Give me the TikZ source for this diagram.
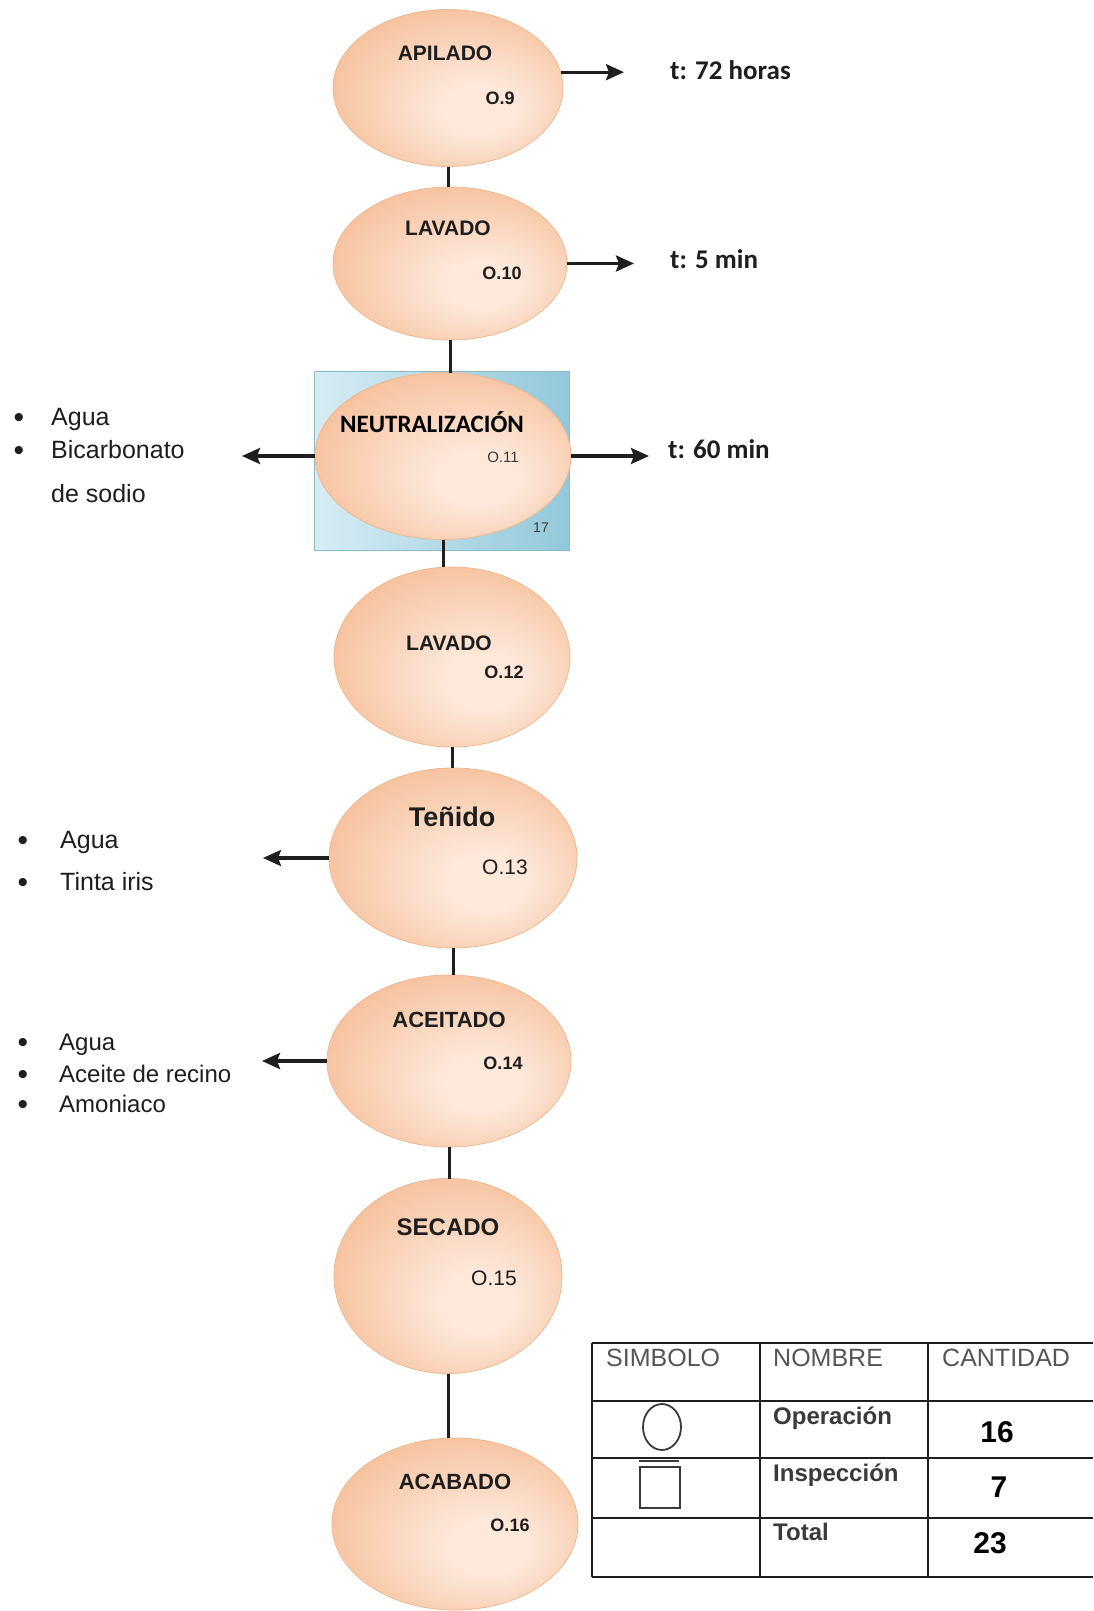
\documentclass[tikz,border=0pt]{standalone}
\usepackage{fontspec}
\setmainfont{Liberation Sans}
\newfontfamily\calib{Carlito}
\usetikzlibrary{arrows.meta,shapes.geometric}
\definecolor{peachin}{HTML}{FDE8DA}
\definecolor{peachout}{HTML}{F6C29E}
\definecolor{peachline}{HTML}{F0B890}
\definecolor{blueL}{HTML}{D6EDF5}
\definecolor{blueR}{HTML}{92C8DA}
\definecolor{blueline}{HTML}{8CB9CA}
\definecolor{ink}{HTML}{1E1E1E}
\definecolor{hdr}{HTML}{555555}
\definecolor{rowtxt}{HTML}{3A3A3A}
\pgfdeclareradialshading{peach}{\pgfpoint{8bp}{-8bp}}{color(0bp)=(peachin); color(8bp)=(peachin); color(30bp)=(peachout); color(50bp)=(peachout)}
\begin{document}
\begin{tikzpicture}[x=1pt,y=-1pt,
  op/.style={ellipse, shade, shading=peach, draw=peachline, line width=0.8pt, inner sep=0pt, outer sep=0pt},
  nbox/.style={rectangle, left color=blueL, right color=blueR, draw=blueline, line width=0.8pt, inner sep=0pt, outer sep=0pt},
  link/.style={draw=ink, line width=3pt},
  arr/.style={draw=ink, line width=3.2pt, -{Stealth[length=18pt,width=16pt,inset=3pt]}},
  title/.style={font=\bfseries\fontsize{21}{25}\selectfont, text=ink, inner sep=0pt},
  num/.style={font=\bfseries\fontsize{18}{22}\selectfont, text=ink, inner sep=0pt},
  numr/.style={font=\fontsize{21}{24}\selectfont, text=ink, inner sep=0pt},
  tlabel/.style={font=\calib\bfseries\fontsize{27}{32}\selectfont, text=ink, inner sep=0pt},
  item/.style={font=\fontsize{25}{30}\selectfont, text=ink, inner sep=0pt},
  itemsm/.style={font=\fontsize{24}{28}\selectfont, text=ink, inner sep=0pt},
  bul/.style={font=\fontsize{30}{30}\selectfont, text=ink, inner sep=0pt},
  tbl/.style={draw=ink, line width=2.4pt},
  hdrtxt/.style={font=\fontsize{25}{28}\selectfont, text=hdr, inner sep=0pt},
  rowlbl/.style={font=\bfseries\fontsize{24}{28}\selectfont, text=rowtxt, inner sep=0pt},
  cnt/.style={font=\bfseries\fontsize{30}{34}\selectfont, text=black, inner sep=0pt}
]
\useasboundingbox (0,0) rectangle (1093,1611);
\fill[white] (0,0) rectangle (1093,1611);

% blue box behind neutralizacion
\node[nbox, minimum width=255pt, minimum height=179pt] (nbx) at (441.5,460.5) {};
\node[font=\fontsize{14}{16}\selectfont, text=rowtxt, inner sep=0pt] (n17) at (541,528) {17};

% operation ellipses
\node[op, minimum width=230pt, minimum height=157pt] (apilado) at (448,88) {};
\node[op, minimum width=234pt, minimum height=153pt] (lavado1) at (450,263.5) {};
\node[op, minimum width=256pt, minimum height=167pt] (neutral) at (443,456) {};
\node[op, minimum width=236pt, minimum height=180pt] (lavado2) at (452,657) {};
\node[op, minimum width=248pt, minimum height=180pt] (tenido) at (453,858) {};
\node[op, minimum width=244pt, minimum height=172pt] (aceitado) at (449,1061) {};
\node[op, minimum width=228pt, minimum height=195pt] (secado) at (448,1276) {};
\node[op, minimum width=246pt, minimum height=172pt] (acabado) at (455,1524) {};

% labels inside ellipses
\node[title] (lapilado) at (445,53) {APILADO};
\node[num] (napilado) at (500,98) {O.9};
\node[title] (llavado1) at (448,228) {LAVADO};
\node[num] (nlavado1) at (502,273) {O.10};
\node[font=\calib\bfseries\fontsize{25}{30}\selectfont, text=black, inner sep=0pt] (lneutral) at (432,422) {NEUTRALIZACIÓN};
\node[num, font=\fontsize{15}{17}\selectfont, text=rowtxt] (nneutral) at (503,457) {O.11};
\node[title] (llavado2) at (449,643) {LAVADO};
\node[num] (nlavado2) at (504,672) {O.12};
\node[title, font=\bfseries\fontsize{27}{31}\selectfont] (ltenido) at (452,817) {Teñido};
\node[numr] (ntenido) at (505,867) {O.13};
\node[title, font=\bfseries\fontsize{22}{26}\selectfont] (laceitado) at (449,1020) {ACEITADO};
\node[num] (naceitado) at (503,1063) {O.14};
\node[title, font=\bfseries\fontsize{24}{28}\selectfont] (lsecado) at (448,1227) {SECADO};
\node[numr] (nsecado) at (494,1278) {O.15};
\node[title, font=\bfseries\fontsize{22}{26}\selectfont] (lacabado) at (455,1482) {ACABADO};
\node[num] (nacabado) at (510,1525) {O.16};

% vertical connectors
\draw[link] (apilado.south) -- (apilado.south |- lavado1.north);
\draw[link] (lavado1.south) -- (lavado1.south |- neutral.north);
\draw[link] (neutral.south) -- (neutral.south |- lavado2.north);
\draw[link] (lavado2.south) -- (lavado2.south |- tenido.north);
\draw[link] (tenido.south) -- (tenido.south |- aceitado.north);
\draw[link] (aceitado.south) -- (aceitado.south |- secado.north);
\draw[link] (secado.south) -- (secado.south |- acabado.north);

% right side time labels
\coordinate (r1) at (624,73);
\coordinate (r2) at (634,260);
\coordinate (r3) at (649,452);
\draw[arr] (apilado.8) -- (apilado.8 -| r1);
\draw[arr] (lavado1.east) -- (lavado1.east -| r2);
\draw[arr] (neutral.east) -- (neutral.east -| r3);
\node[tlabel, anchor=base west] (t1) at (670,80) {t: 72 horas};
\node[tlabel, anchor=base west] (t2) at (670,268) {t: 5 min};
\node[tlabel, anchor=base west] (t3) at (668,458) {t: 60 min};

% left side inputs
\coordinate (l1) at (242,452);
\coordinate (l2) at (263,857);
\coordinate (l3) at (262,1063);
\draw[arr] (neutral.west) -- (neutral.west -| l1);
\draw[arr] (tenido.west) -- (tenido.west -| l2);
\draw[arr] (aceitado.west) -- (aceitado.west -| l3);

\node[bul, anchor=base] (b1a) at (19,427) {•};
\node[bul, anchor=base] (b1b) at (19,460) {•};
\node[item, anchor=base west] (i1a) at (51,425) {Agua};
\node[item, anchor=base west] (i1b) at (51,458) {Bicarbonato};
\node[item, anchor=base west] (i1c) at (51,502) {de sodio};

\node[bul, anchor=base] (b2a) at (23,850) {•};
\node[bul, anchor=base] (b2b) at (23,892) {•};
\node[item, anchor=base west] (i2a) at (60,848) {Agua};
\node[item, anchor=base west] (i2b) at (60,890) {Tinta iris};

\node[bul, anchor=base] (b3a) at (23,1052) {•};
\node[bul, anchor=base] (b3b) at (23,1084) {•};
\node[bul, anchor=base] (b3c) at (23,1114) {•};
\node[itemsm, anchor=base west] (i3a) at (59,1050) {Agua};
\node[itemsm, anchor=base west] (i3b) at (59,1082) {Aceite de recino};
\node[itemsm, anchor=base west] (i3c) at (59,1112) {Amoniaco};

% summary table
\fill[white] (592,1343) rectangle (1093,1577);
\draw[tbl] (592,1343) -- (1093,1343);
\draw[tbl] (592,1401) -- (1093,1401);
\draw[tbl] (592,1458) -- (1093,1458);
\draw[tbl] (592,1518) -- (1093,1518);
\draw[tbl] (592,1577) -- (1093,1577);
\draw[tbl] (592,1343) -- (592,1577);
\draw[tbl] (760,1343) -- (760,1577);
\draw[tbl] (928,1343) -- (928,1577);

\node[hdrtxt, anchor=west] (h1) at (606,1358) {SIMBOLO};
\node[hdrtxt, anchor=west] (h2) at (773,1358) {NOMBRE};
\node[hdrtxt, anchor=west] (h3) at (942,1358) {CANTIDAD};

\node[draw=rowtxt, ellipse, line width=1.8pt, minimum width=38pt, minimum height=46pt, inner sep=0pt] (symop) at (662,1427) {};
\node[draw=rowtxt, rectangle, line width=1.8pt, minimum width=40pt, minimum height=41pt, inner sep=0pt] (symins) at (660,1487.5) {};
\draw[draw=rowtxt, line width=1.8pt] (symins.north west) ++(0,-5) -- ++(40,0);

\node[rowlbl, anchor=west] (r1l) at (773,1418) {Operación};
\node[rowlbl, anchor=west] (r2l) at (773,1475) {Inspección};
\node[rowlbl, anchor=west] (r3l) at (773,1532) {Total};

\node[cnt] (c1) at (997,1432) {16};
\node[cnt] (c2) at (999,1487) {7};
\node[cnt] (c3) at (990,1543) {23};
\end{tikzpicture}
\end{document}
